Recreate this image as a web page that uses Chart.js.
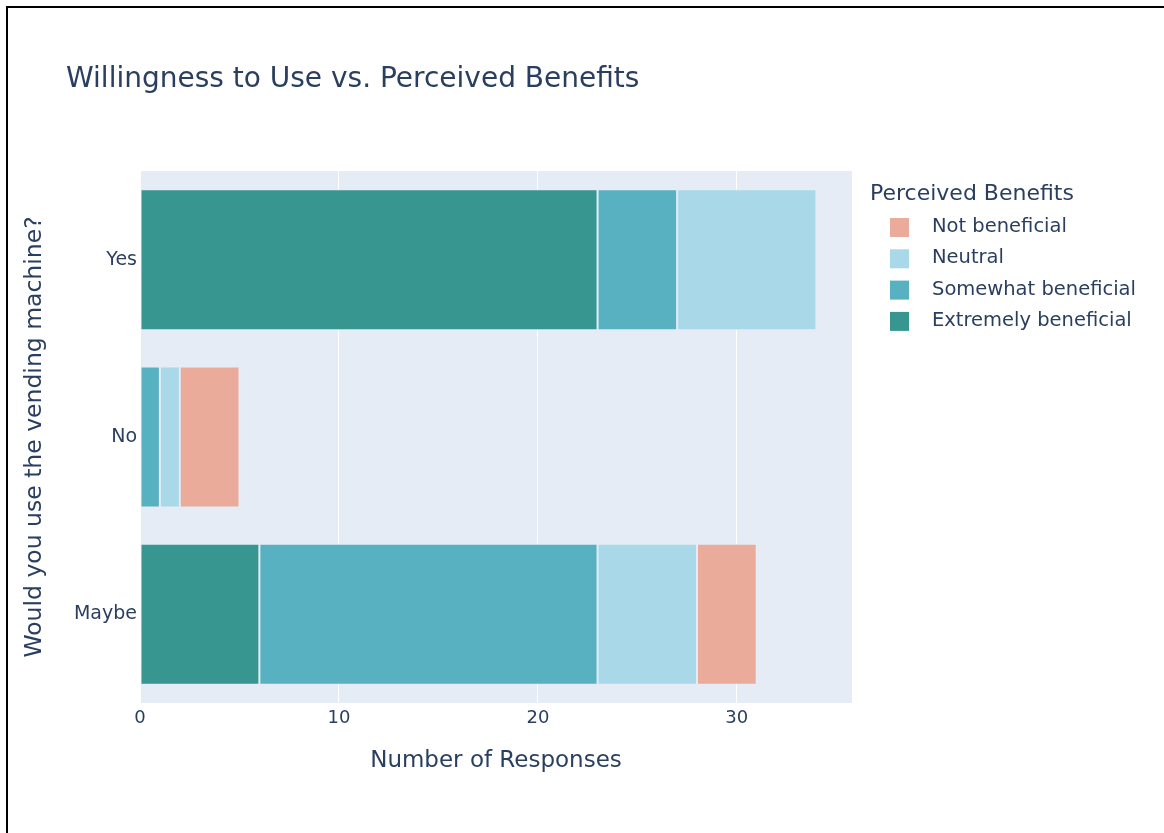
<!DOCTYPE html>
<html>
<head>
<meta charset="utf-8">
<script src="https://cdn.jsdelivr.net/npm/chart.js@4"></script>
<style>
  html, body { margin: 0; padding: 0; background: #fff; overflow: hidden; }
  #wrap { position: relative; width: 1164px; height: 833px; overflow: hidden; }
  #frame { position: absolute; left: 6px; top: 6px; width: 1200px; height: 900px;
           border-top: 2px solid #000; border-left: 2px solid #000; }
  #chart { position: absolute; left: 0; top: 0; }
</style>
</head>
<body>
<div id="wrap">
  <div id="frame"></div>
  <canvas id="chart" width="1164" height="833"></canvas>
</div>
<script>
// answers to "Would you use the vending machine?"
const answers = ['Yes', 'No', 'Maybe'];

// counts per perceived benefit level (same order as answers)
const extremelyBeneficial = [23, 0, 6];
const somewhatBeneficial = [4, 1, 17];
const neutral = [7, 1, 5];
const notBeneficial = [0, 3, 3];

const xTicks = [0, 10, 20, 30];
const xMax = 35.79;

const TEXT = '#2a3f5f';
const FONT = '"DejaVu Sans", Verdana, sans-serif';

const series = [
  { label: 'Extremely beneficial', data: extremelyBeneficial, color: '#37968f' },
  { label: 'Somewhat beneficial', data: somewhatBeneficial, color: '#58b1c1' },
  { label: 'Neutral', data: neutral, color: '#a9d8e8' },
  { label: 'Not beneficial', data: notBeneficial, color: '#ebab9a' },
];

// plot background, title and legend in plotly style
const decor = {
  id: 'decor',
  beforeDraw(chart) {
    const { ctx, chartArea: a } = chart;
    ctx.save();
    ctx.fillStyle = '#e5ecf6';
    ctx.fillRect(a.left, a.top, a.right - a.left, a.bottom - a.top);
    ctx.restore();
  },
  afterDraw(chart) {
    const { ctx } = chart;
    ctx.save();
    ctx.fillStyle = TEXT;
    ctx.textBaseline = 'middle';
    ctx.textAlign = 'left';

    ctx.font = `28px ${FONT}`;
    ctx.fillText('Willingness to Use vs. Perceived Benefits', 66, 80);

    ctx.font = `22px ${FONT}`;
    ctx.fillText('Perceived Benefits', 870, 194);

    ctx.font = `19.5px ${FONT}`;
    const items = chart.data.datasets.slice().reverse();
    items.forEach((ds, i) => {
      const y = 227 + i * 31.3;
      ctx.fillStyle = ds.backgroundColor;
      ctx.fillRect(890, y - 9, 19, 19);
      ctx.fillStyle = TEXT;
      ctx.fillText(ds.label, 932, y);
    });
    ctx.restore();
  }
};

new Chart(document.getElementById('chart'), {
  type: 'bar',
  data: {
    labels: answers,
    datasets: series.map(s => ({
      label: s.label,
      data: s.data,
      backgroundColor: s.color,
      borderColor: '#e5ecf6',
      borderWidth: 1,
      borderSkipped: false,
      categoryPercentage: 0.795,
      barPercentage: 1,
    }))
  },
  options: {
    indexAxis: 'y',
    responsive: false,
    animation: false,
    layout: { padding: { left: 20, right: 312, top: 171, bottom: 0 } },
    plugins: {
      legend: { display: false },
      tooltip: { enabled: false },
    },
    scales: {
      x: {
        stacked: true,
        min: 0,
        max: xMax,
        afterBuildTicks: s => { s.ticks = xTicks.map(v => ({ value: v })); },
        afterFit: s => { s.height = 130; },
        grid: { color: '#ffffff', lineWidth: 1, drawTicks: false },
        border: { display: false },
        ticks: { color: TEXT, font: { family: FONT, size: 18 }, padding: 5, maxRotation: 0 },
        title: {
          display: true,
          text: 'Number of Responses',
          color: TEXT,
          font: { family: FONT, size: 23 },
          padding: { top: 0, bottom: 58 }
        }
      },
      y: {
        stacked: true,
        afterFit: s => { s.width = 120; },
        grid: { display: false, drawTicks: false },
        border: { display: false },
        ticks: { color: TEXT, font: { family: FONT, size: 19 }, padding: 3 },
        title: {
          display: true,
          text: 'Would you use the vending machine?',
          color: TEXT,
          font: { family: FONT, size: 23.5 },
          padding: { top: 1, bottom: 0 }
        }
      }
    }
  },
  plugins: [decor]
});
</script>
</body>
</html>
